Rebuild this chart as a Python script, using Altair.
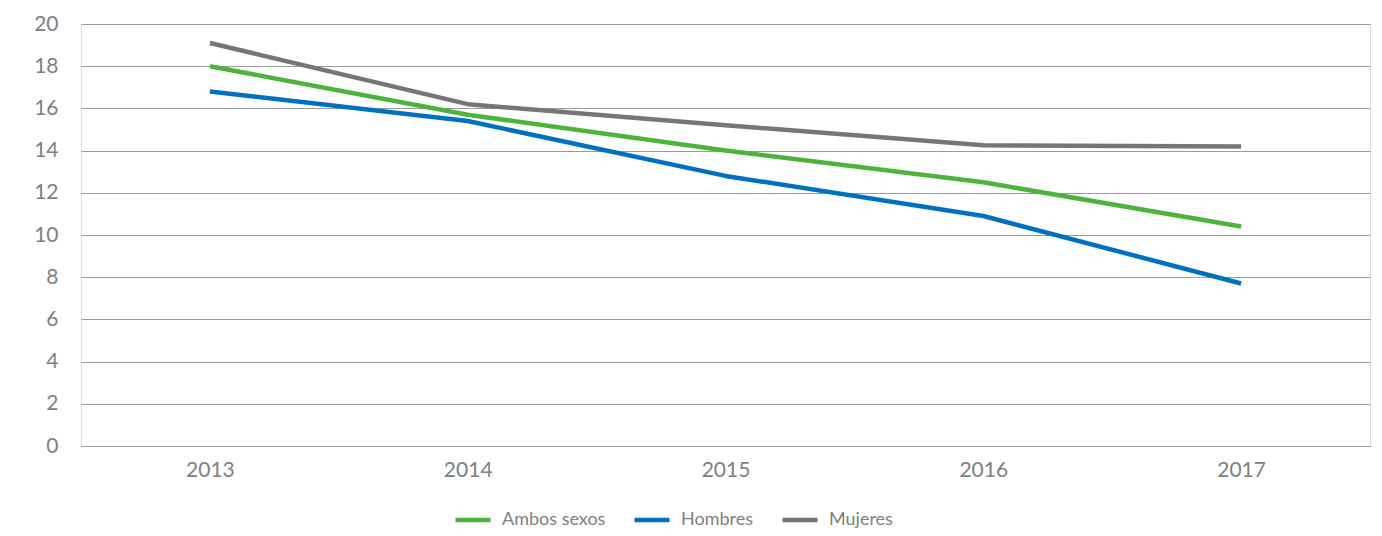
import altair as alt
import pandas as pd

years = ["2013", "2014", "2015", "2016", "2017"]
series = ["Ambos sexos", "Hombres", "Mujeres"]
ambos = [18.0, 15.7, 14.0, 12.5, 10.4]
hombres = [16.8, 15.4, 12.8, 10.9, 7.7]
mujeres = [19.1, 16.2, 15.2, 14.25, 14.2]
colors = ["#4db33d", "#0070c0", "#767676"]

rows = []
for name, vals in zip(series, [ambos, hombres, mujeres]):
    for y, v in zip(years, vals):
        rows.append({"Año": y, "Serie": name, "Valor": v})
df = pd.DataFrame(rows)

font = "Lato"
label_color = "#808080"

chart = alt.Chart(df).mark_line(strokeWidth=4.5, strokeCap="butt", strokeJoin="round").encode(
    x=alt.X("Año:O", sort=years, title=None,
            scale=alt.Scale(type="point", padding=0.5),
            axis=alt.Axis(labelAngle=0, labelFont=font, labelFontSize=21, labelColor=label_color,
                          labelPadding=13, ticks=False, domain=False, grid=False)),
    y=alt.Y("Valor:Q", title=None,
            scale=alt.Scale(domain=[0, 20], nice=False, zero=True),
            axis=alt.Axis(values=list(range(0, 21, 2)), labelFont=font, labelFontSize=21,
                          labelColor=label_color, labelPadding=23, ticks=False, domain=False,
                          grid=True, gridColor="#9a9a9a", gridWidth=1.2)),
    color=alt.Color("Serie:N", sort=series, title=None,
                    scale=alt.Scale(domain=series, range=colors),
                    legend=alt.Legend(orient="none", legendX=372, legendY=476, direction="horizontal",
                                      padding=0, symbolType="stroke", symbolSize=1225,
                                      symbolStrokeWidth=4.5,
                                      labelFont=font, labelFontSize=18, labelColor=label_color,
                                      labelOffset=9, columnPadding=19)),
    order=alt.Order("Año:O"),
).properties(
    width=1289, height=422,
    autosize=alt.AutoSizeParams(type="none"),
    padding={"left": 73, "top": 16, "right": 2, "bottom": 82},
).configure_view(stroke=None).configure(background="white")

chart.save("out.html", embed_options={"renderer": "svg", "actions": False})
